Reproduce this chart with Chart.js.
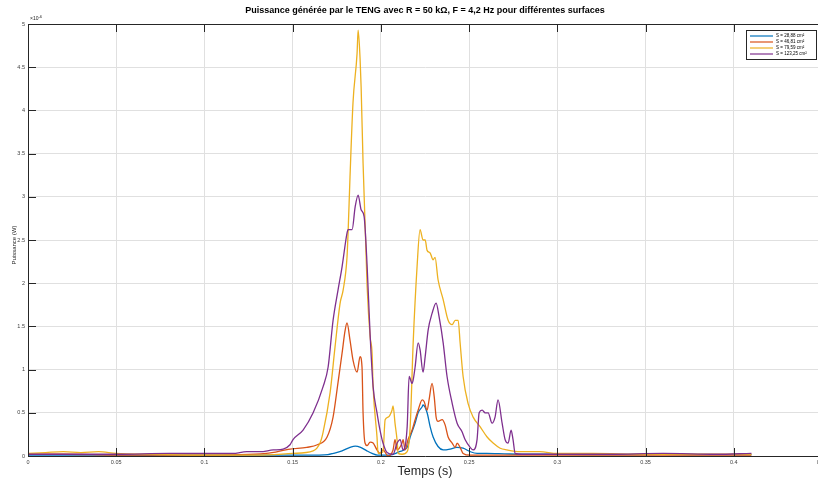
<!DOCTYPE html>
<html>
<head>
<meta charset="utf-8">
<script src="https://cdn.jsdelivr.net/npm/chart.js@4.4.1/dist/chart.umd.min.js"></script>
<style>
  html, body { margin: 0; padding: 0; background: #fff; overflow: hidden; }
  #wrap { width: 824px; height: 480px; }
</style>
</head>
<body>
<div id="wrap"><canvas id="tengChart" width="824" height="480"></canvas></div>
<script>
// temps (s) et puissance (x 1e-6 W)
const tBlue = [0, 0.05, 0.1, 0.15, 0.165, 0.17, 0.173, 0.178, 0.1825, 0.1855, 0.1885, 0.192, 0.195, 0.198, 0.205, 0.2105, 0.2149, 0.2166, 0.2194, 0.2211, 0.2234, 0.2239, 0.2262, 0.2279, 0.2296, 0.2324, 0.2353, 0.2392, 0.243, 0.2466, 0.2506, 0.2545, 0.26, 0.27, 0.28, 0.29, 0.3, 0.33, 0.36, 0.39, 0.41];
const pBlue = [0.01, 0.01, 0.01, 0.01, 0.01, 0.015, 0.03, 0.06, 0.1, 0.115, 0.1, 0.06, 0.03, 0.01, 0.01, 0.05, 0.1, 0.22, 0.38, 0.5, 0.57, 0.59, 0.5, 0.34, 0.22, 0.11, 0.07, 0.08, 0.1, 0.09, 0.05, 0.03, 0.03, 0.025, 0.02, 0.02, 0.02, 0.015, 0.02, 0.015, 0.015];

const tOrange = [0, 0.02, 0.05, 0.1, 0.135, 0.1485, 0.158, 0.164, 0.1695, 0.1729, 0.1757, 0.178, 0.1797, 0.1808, 0.1825, 0.1842, 0.1865, 0.1882, 0.1893, 0.1899, 0.191, 0.1922, 0.1939, 0.1956, 0.1978, 0.1995, 0.2012, 0.2041, 0.2069, 0.208, 0.2092, 0.212, 0.2126, 0.2137, 0.2154, 0.2177, 0.2194, 0.2211, 0.2234, 0.2245, 0.2262, 0.2273, 0.229, 0.2302, 0.2313, 0.2324, 0.2347, 0.2364, 0.2381, 0.2404, 0.2421, 0.2432, 0.2449, 0.2466, 0.2506, 0.27, 0.3, 0.35, 0.41];
const pOrange = [0.02, 0.02, 0.01, 0.01, 0.03, 0.08, 0.1, 0.13, 0.22, 0.45, 0.85, 1.19, 1.45, 1.54, 1.34, 1.11, 0.97, 1.15, 1.03, 0.5, 0.15, 0.12, 0.16, 0.15, 0.07, 0.03, 0.07, 0.0, 0.07, 0.19, 0.07, 0.15, 0.19, 0.07, 0.19, 0.3, 0.42, 0.53, 0.65, 0.63, 0.53, 0.65, 0.84, 0.69, 0.45, 0.4, 0.42, 0.36, 0.22, 0.15, 0.1, 0.15, 0.1, 0.03, 0.01, 0.01, 0.01, 0.01, 0.01];

const tYellow = [0, 0.01, 0.02, 0.03, 0.04, 0.05, 0.07, 0.1, 0.13, 0.15, 0.1616, 0.1655, 0.1672, 0.1712, 0.174, 0.1769, 0.1786, 0.1808, 0.1814, 0.1825, 0.1842, 0.1865, 0.1871, 0.1882, 0.1888, 0.1899, 0.1922, 0.1939, 0.195, 0.1956, 0.1978, 0.1984, 0.2012, 0.2024, 0.2041, 0.2063, 0.2069, 0.208, 0.2092, 0.2098, 0.212, 0.2149, 0.2166, 0.2183, 0.2205, 0.2222, 0.2239, 0.2251, 0.2262, 0.2279, 0.2296, 0.2307, 0.2324, 0.2353, 0.2381, 0.2404, 0.2421, 0.2438, 0.2449, 0.2466, 0.2494, 0.2523, 0.2562, 0.2602, 0.2636, 0.2676, 0.2715, 0.279, 0.29, 0.3, 0.32, 0.35, 0.38, 0.41];
const pYellow = [0.03, 0.04, 0.05, 0.04, 0.05, 0.03, 0.02, 0.01, 0.01, 0.03, 0.06, 0.15, 0.27, 0.73, 1.26, 1.77, 1.92, 2.3, 2.58, 3.23, 4.09, 4.66, 4.93, 4.6, 4.27, 3.39, 1.96, 1.38, 1.19, 0.8, 0.22, 0.03, 0.05, 0.42, 0.45, 0.53, 0.58, 0.38, 0.18, 0.03, 0.02, 0.05, 0.34, 1.31, 2.19, 2.62, 2.5, 2.5, 2.38, 2.35, 2.27, 2.3, 2.04, 1.81, 1.57, 1.52, 1.57, 1.57, 1.31, 0.92, 0.61, 0.45, 0.34, 0.22, 0.15, 0.09, 0.07, 0.05, 0.05, 0.03, 0.03, 0.02, 0.02, 0.02];

const tPurple = [0, 0.05, 0.08, 0.1, 0.116, 0.124, 0.1315, 0.139, 0.1446, 0.1485, 0.1502, 0.1559, 0.1616, 0.1672, 0.1701, 0.1729, 0.1757, 0.178, 0.1808, 0.1814, 0.1837, 0.1854, 0.1871, 0.1888, 0.1905, 0.1922, 0.1939, 0.1956, 0.1978, 0.1995, 0.2012, 0.2035, 0.2069, 0.2092, 0.2109, 0.2126, 0.2149, 0.216, 0.2177, 0.2183, 0.2194, 0.2211, 0.2222, 0.2239, 0.2251, 0.2268, 0.229, 0.2313, 0.233, 0.2353, 0.2375, 0.2404, 0.2432, 0.246, 0.2477, 0.2506, 0.2523, 0.2545, 0.2557, 0.2574, 0.2591, 0.2608, 0.263, 0.2647, 0.2664, 0.2687, 0.2704, 0.2721, 0.2738, 0.2749, 0.2761, 0.28, 0.3, 0.33, 0.36, 0.39, 0.41];
const pPurple = [0.02, 0.02, 0.03, 0.03, 0.03, 0.05, 0.05, 0.07, 0.08, 0.13, 0.19, 0.3, 0.5, 0.8, 1.03, 1.57, 1.92, 2.19, 2.58, 2.62, 2.62, 2.88, 3.02, 2.85, 2.77, 2.2, 1.4, 0.8, 0.5, 0.3, 0.15, 0.04, 0.02, 0.15, 0.19, 0.07, 0.34, 0.92, 0.84, 0.88, 1.03, 1.31, 1.23, 0.97, 1.15, 1.46, 1.65, 1.77, 1.61, 1.31, 0.92, 0.61, 0.38, 0.28, 0.19, 0.1, 0.07, 0.19, 0.5, 0.53, 0.5, 0.5, 0.38, 0.45, 0.65, 0.38, 0.19, 0.15, 0.3, 0.19, 0.03, 0.02, 0.02, 0.02, 0.03, 0.02, 0.03];

const seriesLabels = ['S = 28,88 cm²', 'S = 46,81 cm²', 'S = 79,59 cm²', 'S = 123,25 cm²'];
const seriesColors = ['#0072BD', '#D95319', '#EDB120', '#7E2F8E'];
const xTicks = [0, 0.05, 0.1, 0.15, 0.2, 0.25, 0.3, 0.35, 0.4, 0.45];
const yTicks = [0, 0.5, 1, 1.5, 2, 2.5, 3, 3.5, 4, 4.5, 5];

const FONT = "'Liberation Sans', Arial, sans-serif";
const toPoints = (t, p) => t.map((x, i) => ({ x: x, y: p[i] }));

// cadre, petites graduations vers l'intérieur, titres, légende (style MATLAB)
const matlabDecor = {
    id: 'matlabDecor',
    afterDraw(chart) {
        const ctx = chart.ctx;
        const a = chart.chartArea;
        const sx = chart.scales.x, sy = chart.scales.y;
        ctx.save();
        ctx.strokeStyle = '#262626';
        ctx.lineWidth = 1;
        ctx.beginPath();
        ctx.moveTo(a.left, a.top + 0.5);
        ctx.lineTo(a.right, a.top + 0.5);
        xTicks.forEach(v => {
            const px = Math.round(sx.getPixelForValue(v)) + 0.5;
            ctx.moveTo(px, a.bottom); ctx.lineTo(px, a.bottom - 8);
            ctx.moveTo(px, a.top); ctx.lineTo(px, a.top + 8);
        });
        yTicks.forEach(v => {
            const py = Math.round(sy.getPixelForValue(v)) + 0.5;
            ctx.moveTo(a.left, py); ctx.lineTo(a.left + 8, py);
        });
        ctx.stroke();

        // titre
        ctx.fillStyle = '#000';
        ctx.textAlign = 'center';
        ctx.textBaseline = 'middle';
        ctx.font = 'bold 9px ' + FONT;
        ctx.fillText('Puissance générée par le TENG avec R = 50 kΩ, F = 4,2 Hz pour différentes surfaces', 425, 11);

        // axe x
        ctx.fillStyle = '#262626';
        ctx.font = '12.5px ' + FONT;
        ctx.fillText('Temps (s)', 425, 472);

        // axe y
        ctx.save();
        ctx.translate(14, 245);
        ctx.rotate(-Math.PI / 2);
        ctx.font = '6px ' + FONT;
        ctx.fillText('Puissance (W)', 0, 0);
        ctx.restore();

        // exposant
        ctx.textAlign = 'left';
        ctx.font = '5px ' + FONT;
        ctx.fillText('×10', 30, 19);
        ctx.font = '4px ' + FONT;
        ctx.fillText('-6', 38.5, 17);

        // légende
        const lx = 746.5, ly = 30.5, lw = 70, lh = 29;
        ctx.fillStyle = '#fff';
        ctx.fillRect(lx, ly, lw, lh);
        ctx.strokeStyle = '#262626';
        ctx.strokeRect(lx, ly, lw, lh);
        ctx.font = '4.5px ' + FONT;
        seriesLabels.forEach((lab, i) => {
            const y = 36 + i * 6;
            ctx.strokeStyle = seriesColors[i];
            ctx.lineWidth = 1.2;
            ctx.beginPath();
            ctx.moveTo(750, y); ctx.lineTo(773, y);
            ctx.stroke();
            ctx.fillStyle = '#000';
            ctx.fillText(lab, 776, y);
        });
        ctx.restore();
    }
};

const seriesT = [tBlue, tOrange, tYellow, tPurple];
const seriesP = [pBlue, pOrange, pYellow, pPurple];

new Chart(document.getElementById('tengChart'), {
    type: 'line',
    data: {
        datasets: seriesLabels.map((lab, i) => ({
            label: lab,
            data: toPoints(seriesT[i], seriesP[i]),
            borderColor: seriesColors[i],
            borderWidth: 1.3,
            pointRadius: 0,
            cubicInterpolationMode: 'monotone',
            fill: false,
            order: 4 - i
        }))
    },
    options: {
        responsive: false,
        animation: false,
        devicePixelRatio: 1,
        layout: { padding: { top: 24, right: 2, bottom: 0, left: 0 } },
        plugins: {
            legend: { display: false },
            title: { display: false },
            tooltip: { enabled: false }
        },
        scales: {
            x: {
                type: 'linear',
                min: 0,
                max: 0.45,
                afterBuildTicks: s => { s.ticks = xTicks.map(v => ({ value: v })); },
                afterFit: s => { s.height = 24; s.paddingLeft = 0; s.paddingRight = 0; },
                ticks: {
                    autoSkip: false,
                    maxRotation: 0,
                    padding: 3,
                    color: '#404040',
                    font: { family: FONT, size: 5.5 },
                    callback: v => String(+v.toFixed(2))
                },
                grid: { color: '#e0e0e0', lineWidth: 1, drawTicks: false },
                border: { color: '#262626', width: 1 }
            },
            y: {
                min: 0,
                max: 5,
                afterBuildTicks: s => { s.ticks = yTicks.map(v => ({ value: v })); },
                afterFit: s => { s.width = 28; s.paddingTop = 0; s.paddingBottom = 0; },
                ticks: {
                    padding: 3,
                    color: '#404040',
                    font: { family: FONT, size: 5.5 },
                    callback: v => String(+v.toFixed(1))
                },
                grid: { color: '#e0e0e0', lineWidth: 1, drawTicks: false },
                border: { color: '#262626', width: 1 }
            }
        }
    },
    plugins: [matlabDecor]
});
</script>
</body>
</html>
